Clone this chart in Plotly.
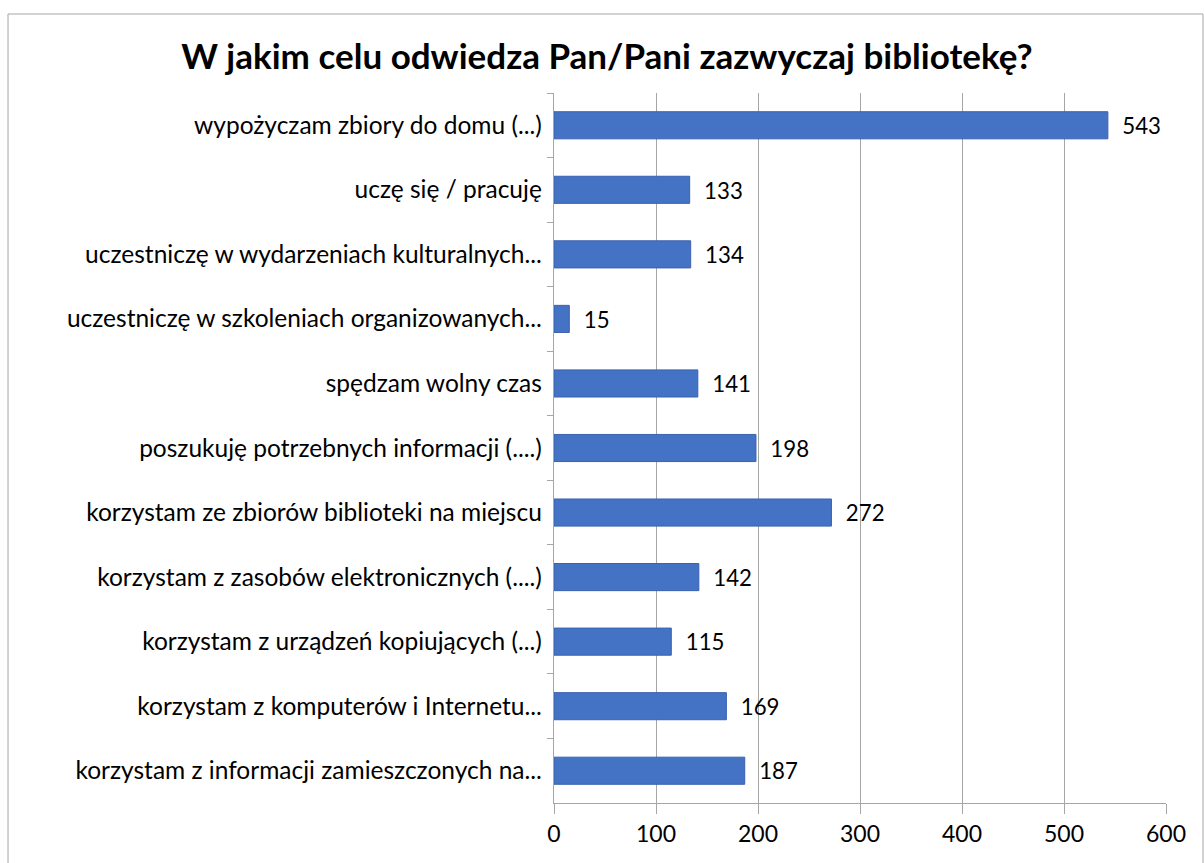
import plotly.graph_objects as go

categories = [
    "wypożyczam zbiory do domu (...)",
    "uczę się / pracuję",
    "uczestniczę w wydarzeniach kulturalnych...",
    "uczestniczę w szkoleniach organizowanych...",
    "spędzam wolny czas",
    "poszukuję potrzebnych informacji (....)",
    "korzystam ze zbiorów biblioteki na miejscu",
    "korzystam z zasobów elektronicznych (....)",
    "korzystam z urządzeń kopiujących (...)",
    "korzystam z komputerów i Internetu...",
    "korzystam z informacji zamieszczonych na...",
]
values = [543, 133, 134, 15, 141, 198, 272, 142, 115, 169, 187]
x_ticks = [0, 100, 200, 300, 400, 500, 600]

W, H = 1204, 863
L, R, T, B = 554, 38, 93, 60
pw, ph = W - L - R, H - T - B
FONT = "Lato"

fig = go.Figure(go.Bar(
    y=categories, x=values, orientation="h",
    marker=dict(color="#4472C4", line=dict(color="#3A62AD", width=1)),
    width=0.42,
    texttemplate="  %{x}", textposition="outside",
    textfont=dict(family=FONT, size=23, color="#000000"),
    cliponaxis=False,
))

fig.update_layout(
    width=W, height=H,
    margin=dict(l=L, r=R, t=T, b=B, autoexpand=False),
    paper_bgcolor="white", plot_bgcolor="white",
    showlegend=False,
    title=dict(text="<b>W jakim celu odwiedza Pan/Pani zazwyczaj bibliotekę?</b>",
               x=(607) / W, xanchor="center", y=1 - 57 / H, yanchor="middle",
               font=dict(family=FONT, size=35, color="#000000")),
    xaxis=dict(range=[0, 600], tickvals=x_ticks, showgrid=True, gridcolor="#A6A6A6",
               gridwidth=1, showline=True, linecolor="#A6A6A6", linewidth=1,
               ticks="outside", ticklen=10, tickcolor="#A6A6A6",
               tickfont=dict(family=FONT, size=23, color="#000000"), zeroline=False),
    yaxis=dict(autorange="reversed", showline=True, linecolor="#A6A6A6", linewidth=1,
               ticks="outside", ticklen=6, tickcolor="#A6A6A6", tickson="boundaries",
               tickfont=dict(family=FONT, size=24.5, color="#000000"), ticksuffix=" "),
    shapes=[dict(type="rect", xref="paper", yref="paper",
                 x0=(8 - L) / pw, x1=(1203 - L) / pw,
                 y0=(H - B - 900) / ph, y1=(H - B - 14) / ph,
                 line=dict(color="#A6A6A6", width=1), fillcolor="rgba(0,0,0,0)")],
)
fig.write_html("out.html", config={"displayModeBar": False},
               post_script="document.body.style.margin='0';")
